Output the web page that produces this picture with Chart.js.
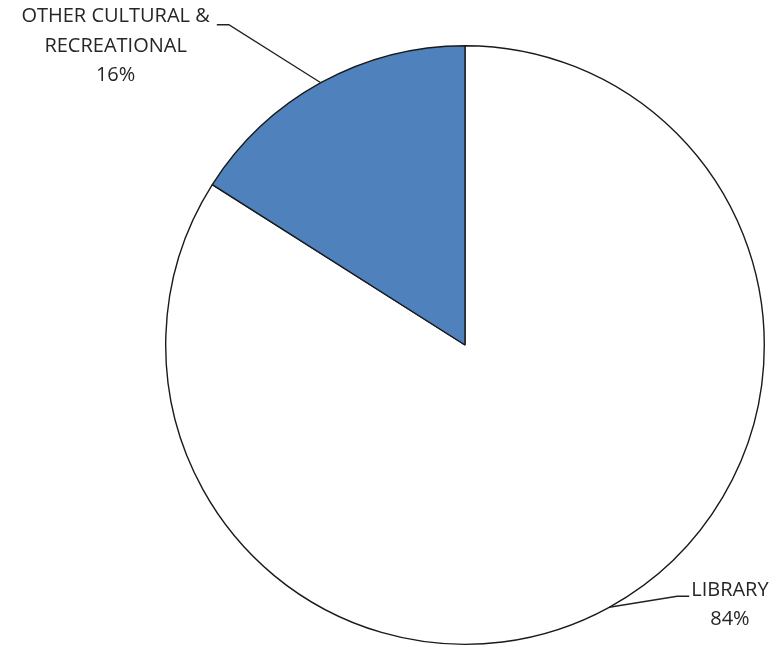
<!DOCTYPE html>
<html lang="en">
<head>
<meta charset="UTF-8">
<title>Pie</title>
<script src="https://cdn.jsdelivr.net/npm/chart.js@4.4.1/dist/chart.umd.min.js"></script>
<style>
  html, body { margin: 0; padding: 0; background: #fff; }
  #wrap { width: 778px; height: 647px; }
</style>
</head>
<body>
<div id="wrap"><canvas id="pie"></canvas></div>
<script>
const categories = ["LIBRARY", "OTHER CULTURAL & RECREATIONAL"];
const labelLines = [["LIBRARY"], ["OTHER CULTURAL &", "RECREATIONAL"]];
const shares = [84, 16];
const sliceColors = ["#ffffff", "#4f81bd"];

// leader elbow offset from the slice edge, and which side the text goes
const leaders = [
  { elbowDx: 68, elbowDy: -11, textSide: "right", gap: 2, firstDy: -6 },
  { elbowDx: -92, elbowDy: -58, textSide: "left", gap: 7, firstDy: -8 }
];

const labelPlugin = {
  id: "outLabels",
  afterDatasetsDraw(chart) {
    const ctx = chart.ctx;
    const meta = chart.getDatasetMeta(0);
    ctx.save();
    ctx.font = "20px 'Open Sans'";
    ctx.textBaseline = "middle";
    ctx.textAlign = "center";
    meta.data.forEach((arc, i) => {
      const ld = leaders[i];
      const mid = (arc.startAngle + arc.endAngle) / 2;
      const px = arc.x + Math.cos(mid) * arc.outerRadius;
      const py = arc.y + Math.sin(mid) * arc.outerRadius;
      const ex = px + ld.elbowDx;
      const ey = py + ld.elbowDy;
      const right = ld.textSide === "right";
      const hx = ex + (right ? 12 : -12);
      ctx.strokeStyle = "#222";
      ctx.lineWidth = 1.4;
      ctx.beginPath();
      ctx.moveTo(px, py);
      ctx.lineTo(ex, ey);
      ctx.lineTo(hx, ey);
      ctx.stroke();

      const lines = labelLines[i].concat([shares[i] + "%"]);
      const widest = Math.max(...lines.map(t => ctx.measureText(t).width));
      const cx = right ? hx + ld.gap + widest / 2 : hx - ld.gap - widest / 2;
      ctx.fillStyle = "#262626";
      lines.forEach((t, k) => {
        ctx.fillText(t, cx, ey + ld.firstDy + k * 29.5);
      });
    });
    ctx.restore();
  }
};

new Chart(document.getElementById("pie"), {
  type: "pie",
  data: {
    labels: categories,
    datasets: [{
      data: shares,
      backgroundColor: sliceColors,
      borderColor: "#1a1a1a",
      borderWidth: 1.4
    }]
  },
  options: {
    responsive: true,
    maintainAspectRatio: false,
    animation: false,
    layout: { padding: { top: 45, bottom: 2, left: 165, right: 13 } },
    plugins: {
      legend: { display: false },
      tooltip: { enabled: false }
    }
  },
  plugins: [labelPlugin]
});
</script>
</body>
</html>
